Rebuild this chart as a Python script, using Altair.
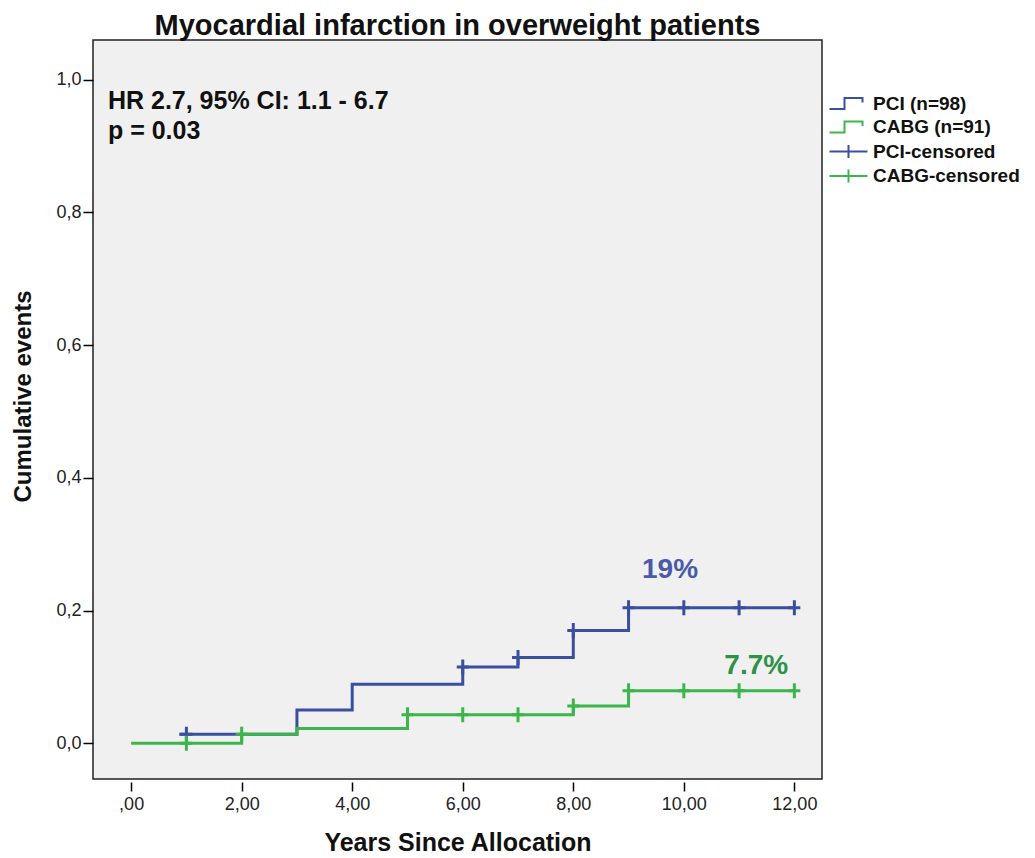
import altair as alt
import pandas as pd

# ---- data ----
pci_label = "PCI (n=98)"
cabg_label = "CABG (n=91)"
pci_cens_label = "PCI-censored"
cabg_cens_label = "CABG-censored"

pci_t = [0.87, 3, 4, 6, 7, 8, 9, 12]
pci_y = [0.0136, 0.050, 0.089, 0.115, 0.129, 0.170, 0.204, 0.204]
cabg_t = [0, 2, 3, 5, 8, 9, 12]
cabg_y = [0, 0.0136, 0.022, 0.043, 0.056, 0.079, 0.079]

pci_cens_t = [1, 6, 7, 8, 9, 10, 11, 12]
pci_cens_y = [0.0136, 0.115, 0.129, 0.170, 0.204, 0.204, 0.204, 0.204]
cabg_cens_t = [1, 2, 5, 6, 7, 8, 9, 10, 11, 12]
cabg_cens_y = [0, 0.0136, 0.043, 0.043, 0.043, 0.056, 0.079, 0.079, 0.079, 0.079]

x_ticks = [0, 2, 4, 6, 8, 10, 12]
y_ticks = [0, 0.2, 0.4, 0.6, 0.8, 1.0]

notes = ["HR 2.7, 95% CI: 1.1 - 6.7", "p = 0.03"]
notes_x = [-0.42, -0.42]
notes_y = [0.968, 0.923]

pct_pci = ["19%"]
pct_pci_x = [9.75]
pct_pci_y = [0.261]
pct_cabg = ["7.7%"]
pct_cabg_x = [11.31]
pct_cabg_y = [0.116]

blue = "#3b4fa0"
green = "#3cb54a"
blue_text = "#4a5aa8"
green_text = "#2e9148"

# ---- tables ----
pci_df = pd.DataFrame({"t": pci_t, "y": pci_y})
cabg_df = pd.DataFrame({"t": cabg_t, "y": cabg_y})
pci_cens_df = pd.DataFrame({"t": pci_cens_t, "y": pci_cens_y})
cabg_cens_df = pd.DataFrame({"t": cabg_cens_t, "y": cabg_cens_y})
cens_df = pd.DataFrame(
    {"t": pci_cens_t + cabg_cens_t, "y": pci_cens_y + cabg_cens_y,
     "series": [pci_cens_label] * len(pci_cens_t) + [cabg_cens_label] * len(cabg_cens_t)}
)
notes_df = pd.DataFrame({"t": notes_x, "y": notes_y, "txt": notes})
pct_pci_df = pd.DataFrame({"t": pct_pci_x, "y": pct_pci_y, "txt": pct_pci})
pct_cabg_df = pd.DataFrame({"t": pct_cabg_x, "y": pct_cabg_y, "txt": pct_cabg})

# symbol paths (unit square, scaled by the symbol size)
plot_cross = "M-1.2,0H1.2M0,-1.5V1.5"
legend_step = "M-3.8,1.1H-0.8V-1.1H2.8V-0.2"
legend_cross = "M-3.8,0H3.8M0,-1.3V1.3"

domain = [pci_label, cabg_label, pci_cens_label, cabg_cens_label]
color_scale = alt.Scale(domain=domain, range=[blue, green, blue, green])
shape_scale = alt.Scale(domain=domain, range=[legend_step, legend_step, legend_cross, legend_cross])

xs = alt.Scale(domain=[-0.69, 12.5], nice=False, zero=False)
ys = alt.Scale(domain=[-0.054, 1.06], nice=False, zero=False)

x_enc = alt.X(
    "t:Q", scale=xs,
    axis=alt.Axis(
        title="Years Since Allocation", values=x_ticks, grid=False, domain=False,
        tickSize=9, tickWidth=1.5, tickColor="#000", offset=3,
        labelExpr="datum.value == 0 ? ',00' : replace(format(datum.value, '.2f'), '.', ',')",
        labelFontSize=18, labelColor="#222", labelPadding=4, labelFont="Liberation Sans",
        titleFontSize=25, titleFont="Liberation Sans", titleFontWeight="bold",
        titlePadding=17, titleColor="#111",
    ),
)
y_enc = alt.Y(
    "y:Q", scale=ys,
    axis=alt.Axis(
        title="Cumulative events", values=y_ticks, grid=False, domain=False,
        tickSize=10, tickWidth=1.5, tickColor="#000",
        labelExpr="replace(format(datum.value, '.1f'), '.', ',')",
        labelFontSize=18, labelColor="#222", labelPadding=2, labelFont="Liberation Sans",
        titleFontSize=24, titleFont="Liberation Sans", titleFontWeight="bold",
        titlePadding=20, titleColor="#111", titleY=356,
    ),
)

pci_line = alt.Chart(pci_df).mark_line(
    interpolate="step-after", strokeWidth=3, color=blue
).encode(x=x_enc, y=y_enc)

cabg_line = alt.Chart(cabg_df).mark_line(
    interpolate="step-after", strokeWidth=3, color=green
).encode(x="t:Q", y="y:Q")

pci_cens = alt.Chart(pci_cens_df).mark_point(
    filled=False, size=100, strokeWidth=3, opacity=1, shape=plot_cross, color=blue
).encode(x="t:Q", y="y:Q")

cabg_cens = alt.Chart(cabg_cens_df).mark_point(
    filled=False, size=100, strokeWidth=3, opacity=1, shape=plot_cross, color=green
).encode(x="t:Q", y="y:Q")

legend = alt.Legend(
    title=None, orient="none", legendX=746, legendY=54, padding=0,
    labelFontSize=19, labelFontWeight="bold", labelFont="Liberation Sans",
    labelColor="#111", labelOffset=15, rowPadding=3.5, symbolSize=100,
    symbolStrokeWidth=2, symbolFillColor="transparent", symbolOpacity=1,
)

# invisible layer that only carries the legend
legend_layer = alt.Chart(cens_df).mark_point(
    filled=False, size=100, strokeWidth=2, opacity=0
).encode(
    x="t:Q", y="y:Q",
    color=alt.Color("series:N", scale=color_scale, legend=legend),
    shape=alt.Shape("series:N", scale=shape_scale, legend=legend),
)

note_text = alt.Chart(notes_df).mark_text(
    align="left", baseline="middle", fontSize=25, fontWeight="bold",
    font="Liberation Sans", color="#111",
).encode(x="t:Q", y="y:Q", text="txt:N")

pct_pci_text = alt.Chart(pct_pci_df).mark_text(
    align="center", baseline="middle", fontSize=28, fontWeight="bold",
    font="Liberation Sans", color=blue_text,
).encode(x="t:Q", y="y:Q", text="txt:N")

pct_cabg_text = alt.Chart(pct_cabg_df).mark_text(
    align="center", baseline="middle", fontSize=28, fontWeight="bold",
    font="Liberation Sans", color=green_text,
).encode(x="t:Q", y="y:Q", text="txt:N")

chart = (
    alt.layer(pci_line, cabg_line, pci_cens, cabg_cens, legend_layer,
              note_text, pct_pci_text, pct_cabg_text)
    .properties(
        width=729, height=739,
        title=alt.TitleParams(
            "Myocardial infarction in overweight patients", fontSize=29,
            fontWeight="bold", font="Liberation Sans", color="#111",
            anchor="middle", offset=-1,
        ),
        padding={"left": 85, "top": 32, "right": 205, "bottom": 78},
        autosize=alt.AutoSizeParams(type="none"),
        background="white",
    )
    .configure_view(fill="#f0f0f0", stroke="#222", strokeWidth=1.5)
)

chart.save("out.html", embed_options={"renderer": "svg", "actions": False})
